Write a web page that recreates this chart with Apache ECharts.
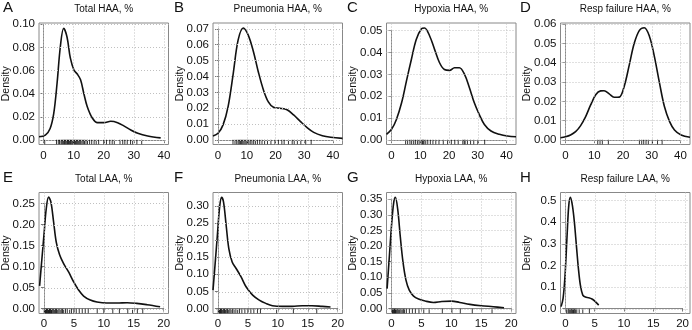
<!DOCTYPE html>
<html>
<head>
<meta charset="utf-8">
<script src="https://cdn.jsdelivr.net/npm/echarts@6/dist/echarts.min.js"></script>
<style>
  html, body { margin: 0; padding: 0; background: #fff; }
  #chart { width: 692px; height: 330px; }
</style>
</head>
<body>
<div id="chart"></div>
<script>
// panel letters and titles
var letters = ['A', 'B', 'C', 'D', 'E', 'F', 'G', 'H'];
var titles = ['Total HAA, %', 'Pneumonia HAA, %', 'Hypoxia HAA, %', 'Resp failure HAA, %',
              'Total LAA, %', 'Pneumonia LAA, %', 'Hypoxia LAA, %', 'Resp failure LAA, %'];

// tick labels
var xTicksHAA = [0, 10, 20, 30, 40];
var xTicksLAA = [0, 5, 10, 15, 20];
var yTicksA = [0, 0.02, 0.04, 0.06, 0.08, 0.10];
var yTicksB = [0, 0.01, 0.02, 0.03, 0.04, 0.05, 0.06, 0.07];
var yTicksC = [0, 0.01, 0.02, 0.03, 0.04, 0.05];
var yTicksD = [0, 0.01, 0.02, 0.03, 0.04, 0.05, 0.06];
var yTicksE = [0, 0.05, 0.10, 0.15, 0.20, 0.25];
var yTicksF = [0, 0.05, 0.10, 0.15, 0.20, 0.25, 0.30];
var yTicksG = [0, 0.05, 0.10, 0.15, 0.20, 0.25, 0.30, 0.35];
var yTicksH = [0, 0.1, 0.2, 0.3, 0.4, 0.5];

// axis ranges (R style, 4% padding)
var xRangeA = [-1.5, 41.5];
var xRangeHAA = [-1.75, 43.3];
var xRangeLAA = [-0.82, 20.8];
var yPeak = [0.0972, 0.0708, 0.0514, 0.0582, 0.266, 0.326, 0.357, 0.517];

// density curves [x, density]
var densA = [[-1.5,0.0028],[0.6,0.0043],[2.2,0.010],[3.4,0.023],[4.5,0.049],[5.6,0.081],[6.7,0.0965],
  [7.8,0.089],[8.9,0.071],[10.1,0.0605],[11.2,0.057],[12.3,0.052],[13.4,0.040],[14.5,0.029],
  [16.2,0.019],[17.9,0.015],[20.1,0.015],[22.3,0.0162],[24.6,0.015],[26.8,0.012],[29,0.0086],
  [31.3,0.0058],[34.6,0.0035],[38.9,0.0018]];
var densB = [[-1.75,0.0025],[0,0.0042],[1.75,0.0095],[3.5,0.021],[5.3,0.042],[7.0,0.063],[8.8,0.0705],
  [10.5,0.066],[12.3,0.0557],[14.0,0.043],[15.8,0.0315],[17.5,0.024],[19.3,0.0206],[21.6,0.020],
  [24,0.019],[26.3,0.0158],[28.7,0.0116],[31,0.0078],[33.3,0.0048],[36.3,0.0027],[39.2,0.0017],[43.3,0.001]];
var densC = [[-1.75,0.0026],[0,0.0049],[1.7,0.0094],[3.5,0.017],[5.2,0.027],[6.9,0.0368],[8.6,0.0459],
  [10.4,0.0508],[11.5,0.0512],[13.3,0.0474],[15,0.0413],[16.7,0.0353],[18.4,0.0322],[20.2,0.0318],
  [21.9,0.033],[23.6,0.033],[25.4,0.030],[27.1,0.0239],[28.8,0.017],[30.5,0.0117],[32.3,0.0071],
  [34.6,0.0041],[37.5,0.0026],[40.3,0.0018],[43.3,0.0015]];
var densD = [[-1.75,0.0012],[0,0.0017],[1.75,0.0026],[3.5,0.0043],[5.2,0.0073],[7.0,0.0121],[8.7,0.018],
  [10.5,0.0234],[12.2,0.0254],[13.4,0.0255],[15.2,0.0239],[16.9,0.0221],[18.7,0.0222],[20.4,0.0277],
  [22.2,0.039],[23.9,0.050],[25.7,0.0567],[27.4,0.0581],[29.2,0.0536],[30.9,0.0433],[32.7,0.0294],
  [34.4,0.0173],[36.2,0.0095],[37.9,0.0052],[40.2,0.0026],[43.3,0.0014]];
var densE = [[-0.72,0.055],[-0.33,0.12],[0.05,0.183],[0.39,0.238],[0.78,0.2658],[1.17,0.254],[1.62,0.2066],
  [2.06,0.159],[2.62,0.129],[3.29,0.108],[4.12,0.088],[4.96,0.0647],[5.79,0.045],[6.63,0.0308],
  [7.74,0.0213],[8.86,0.0166],[10.5,0.0142],[12.2,0.0142],[13.9,0.015],[15.5,0.0134],[17.2,0.0103],[19.4,0.0055]];
var densF = [[-0.82,0.055],[-0.44,0.137],[-0.05,0.224],[0.28,0.296],[0.61,0.325],[0.94,0.311],[1.38,0.243],
  [1.82,0.176],[2.38,0.137],[3.04,0.118],[3.87,0.0936],[4.7,0.0647],[5.8,0.0405],[6.9,0.026],
  [8.0,0.0164],[9.1,0.0097],[10.8,0.0077],[12.4,0.0077],[14.1,0.0097],[15.7,0.0097],[17.4,0.0077],[18.8,0.0058]];
var densG = [[-0.72,0.065],[-0.33,0.171],[0.06,0.276],[0.39,0.34],[0.66,0.356],[1.05,0.318],[1.49,0.229],
  [1.93,0.15],[2.43,0.092],[2.98,0.06],[3.7,0.041],[4.53,0.0316],[5.64,0.0253],[7.0,0.021],
  [8.4,0.024],[10.06,0.0253],[11.4,0.021],[13.1,0.0148],[15.0,0.0105],[17.0,0.0074],[18.8,0.0042]];
var densH = [[-0.72,0.011],[-0.39,0.049],[-0.06,0.156],[0.28,0.34],[0.56,0.477],[0.83,0.515],[1.17,0.477],
  [1.5,0.40],[1.83,0.294],[2.17,0.187],[2.5,0.11],[2.9,0.064],[3.33,0.055],[3.89,0.052],
  [4.44,0.046],[5.0,0.034],[5.56,0.018]];

// rug values (observations)
var rugA = [0.4, 4.3, 4.9, 5.3, 5.8, 6.1, 6.4, 6.7, 7.0, 7.2, 7.5, 7.8, 8.0, 8.3, 8.6, 8.9, 9.1, 9.4,
  9.7, 10.0, 10.3, 10.6, 10.9, 11.2, 11.5, 11.8, 12.1, 12.4, 12.8, 13.2, 13.6, 14.1, 14.6, 15.3, 16.0,
  16.8, 17.5, 18.3, 20.0, 20.9, 22.0, 22.8, 23.5, 25.4, 26.3, 27.0, 27.8, 28.9, 29.6, 31.0, 32.6];
var rugB = [5.2, 5.9, 6.5, 7.0, 7.4, 7.8, 8.2, 8.6, 9.0, 9.4, 9.8, 10.2, 10.7, 11.2, 11.8, 12.4, 13.0,
  13.7, 14.5, 15.3, 16.2, 17.2, 18.4, 19.8, 21.0, 22.2, 23.0, 24.5, 25.8, 26.5, 27.6, 28.8, 30.5, 32.4];
var rugC = [4.9, 5.6, 6.4, 7.0, 7.7, 8.3, 9.0, 9.6, 10.3, 10.8, 11.0, 11.3, 11.9, 12.6, 13.5, 14.4,
  15.4, 16.5, 18.0, 19.5, 20.8, 22.0, 23.2, 24.8, 25.3, 25.6, 26.4, 27.5, 28.6, 30.0, 32.4];
var rugD = [11.2, 12.0, 12.8, 14.9, 25.7, 26.5, 27.2, 28.0, 28.8, 30.2, 32.0, 33.6];
var rugE = [0.05, 0.15, 0.25, 0.35, 0.45, 0.55, 0.65, 0.75, 0.85, 0.95, 1.05, 1.15, 1.25, 1.35, 1.5,
  1.65, 1.8, 1.95, 2.1, 2.3, 2.5, 2.7, 2.9, 3.1, 3.3, 3.6, 3.9, 4.3, 4.6, 5.0, 5.4, 5.9, 6.4, 6.9, 7.4,
  8.9, 10.0, 11.5, 12.6, 14.0, 14.8, 15.6, 16.5];
var rugF = [0.05, 0.15, 0.25, 0.35, 0.45, 0.55, 0.65, 0.8, 0.95, 1.1, 1.25, 1.4, 1.6, 1.8, 2.0, 2.2,
  2.45, 2.7, 3.0, 3.3, 3.6, 4.0, 4.5, 5.0, 5.5, 6.0, 6.6, 7.1, 9.8, 12.6, 16.5];
var rugG = [0.1, 0.2, 0.3, 0.4, 0.5, 0.6, 0.7, 0.8, 0.95, 1.1, 1.25, 1.4, 1.6, 1.8, 2.0, 2.2, 2.5, 3.0,
  3.5, 4.0, 4.6, 5.4, 6.3, 8.5, 10.1, 11.5, 13.5, 16.8];
var rugH = [0.2, 0.45, 0.6, 0.75, 0.9, 1.05, 1.2, 1.35, 1.5, 1.7, 1.9, 2.3, 2.9, 4.0];

var densities = [densA, densB, densC, densD, densE, densF, densG, densH];
var rugs = [rugA, rugB, rugC, rugD, rugE, rugF, rugG, rugH];
var yTicks = [yTicksA, yTicksB, yTicksC, yTicksD, yTicksE, yTicksF, yTicksG, yTicksH];
var xRanges = [xRangeA, xRangeHAA, xRangeHAA, xRangeHAA, xRangeLAA, xRangeLAA, xRangeLAA, xRangeLAA];

// layout
var colLeft = [39, 213, 386.5, 560.5];
var boxW = 129.5;
var rowTop = [23, 192.5];
var rowH = [121.5, 121];
var letterX = [3, 174, 347, 520];

var FONT = '"Liberation Sans", Arial, Helvetica, sans-serif';
var TXT = '#111';
var GRIDCOL = '#c0c0c0';

var chart = echarts.init(document.getElementById('chart'));

var grids = [], xAxes = [], yAxes = [], series = [], graphics = [];

// outer plot boxes: data drawn on padded range
for (var i = 0; i < 8; i++) {
  var col = i % 4, row = Math.floor(i / 4);
  var xt = row === 0 ? xTicksHAA : xTicksLAA;
  grids.push({
    left: colLeft[col], top: rowTop[row], width: boxW, height: rowH[row],
    show: true, borderColor: '#888', borderWidth: 1, backgroundColor: 'transparent', z: 1
  });
  xAxes.push({ gridIndex: i, type: 'value', min: xRanges[i][0], max: xRanges[i][1], show: false });
  yAxes.push({ gridIndex: i, type: 'value', min: -0.04 * yPeak[i], max: 1.04 * yPeak[i], show: false });

  var gridLines = xt.map(function (v) { return { xAxis: v }; })
    .concat(yTicks[i].map(function (v) { return { yAxis: v }; }));

  series.push({
    type: 'scatter', xAxisIndex: i, yAxisIndex: i,
    data: rugs[i].map((function (yb) { return function (v) { return [v, yb]; }; })(-0.04 * yPeak[i])),
    symbol: 'rect', symbolSize: [1, 4.5], symbolOffset: [0, -2.5],
    itemStyle: { color: '#000' }, clip: false, silent: true, z: 2,
    markLine: {
      silent: true, symbol: ['none', 'none'], label: { show: false },
      lineStyle: { color: GRIDCOL, type: [1, 2], width: 1 },
      emphasis: { disabled: true },
      data: gridLines, animation: false
    }
  });
  series.push({
    type: 'line', xAxisIndex: i, yAxisIndex: i,
    data: densities[i], smooth: 0.35, showSymbol: false, clip: true,
    lineStyle: { color: '#111', width: 1.6 }, silent: true, z: 4
  });
}

// inner axes: ticks and labels, shifted onto the box edges with offset
for (var j = 0; j < 8; j++) {
  var c = j % 4, r = Math.floor(j / 4);
  var xr = xRanges[j], yMin = -0.04 * yPeak[j], yMax = 1.04 * yPeak[j];
  var xtk = r === 0 ? xTicksHAA : xTicksLAA;
  var ytk = yTicks[j];
  var x0 = xtk[0], x1 = xtk[xtk.length - 1];
  var y0 = ytk[0], y1 = ytk[ytk.length - 1];
  var W = boxW, H = rowH[r];
  var innerLeft = colLeft[c] + (x0 - xr[0]) / (xr[1] - xr[0]) * W;
  var innerW = (x1 - x0) / (xr[1] - xr[0]) * W;
  var innerTop = rowTop[r] + (yMax - y1) / (yMax - yMin) * H;
  var innerH = (y1 - y0) / (yMax - yMin) * H;
  var offX = (y0 - yMin) / (yMax - yMin) * H;
  var offY = innerLeft - colLeft[c];
  var dec = (j === 7) ? 1 : 2;

  grids.push({ left: innerLeft, top: innerTop, width: innerW, height: innerH, show: false });
  xAxes.push({
    gridIndex: 8 + j, type: 'value', min: x0, max: x1, interval: xtk[1] - xtk[0], offset: offX,
    axisLine: { show: true, lineStyle: { color: '#888', width: 1 } },
    axisTick: { show: true, length: 3, lineStyle: { color: '#777' } },
    axisLabel: { margin: 5, fontSize: 11.5, color: TXT, fontFamily: FONT, showMinLabel: true, showMaxLabel: true, hideOverlap: false },
    splitLine: { show: false }
  });
  yAxes.push({
    gridIndex: 8 + j, type: 'value', min: y0, max: y1, interval: ytk[1] - ytk[0], offset: offY,
    axisLine: { show: true, lineStyle: { color: '#888', width: 1 } },
    axisTick: { show: true, length: 3, lineStyle: { color: '#777' } },
    axisLabel: {
      margin: 4, fontSize: 11.5, color: TXT, fontFamily: FONT, showMinLabel: true, showMaxLabel: true, hideOverlap: false,
      formatter: (function (d) { return function (v) { return (+v).toFixed(d); }; })(dec)
    },
    splitLine: { show: false }
  });

  graphics.push({
    type: 'text', x: letterX[c], y: rowTop[r] - 15,
    style: { text: letters[j], font: '15px ' + FONT, fill: '#111', textVerticalAlign: 'middle' }
  });
  graphics.push({
    type: 'text', x: colLeft[c] + W / 2, y: rowTop[r] - 13.5,
    style: { text: titles[j], font: '10px ' + FONT, fill: TXT, textAlign: 'center', textVerticalAlign: 'middle' }
  });
  graphics.push({
    type: 'text', x: colLeft[c] - 33, y: rowTop[r] + H / 2, rotation: Math.PI / 2,
    style: { text: 'Density', font: '10.5px ' + FONT, fill: TXT, textAlign: 'center', textVerticalAlign: 'middle' }
  });
}

var option = {
  backgroundColor: '#fff',
  animation: false,
  grid: grids,
  xAxis: xAxes,
  yAxis: yAxes,
  series: series,
  graphic: graphics
};

chart.setOption(option);
</script>
</body>
</html>
